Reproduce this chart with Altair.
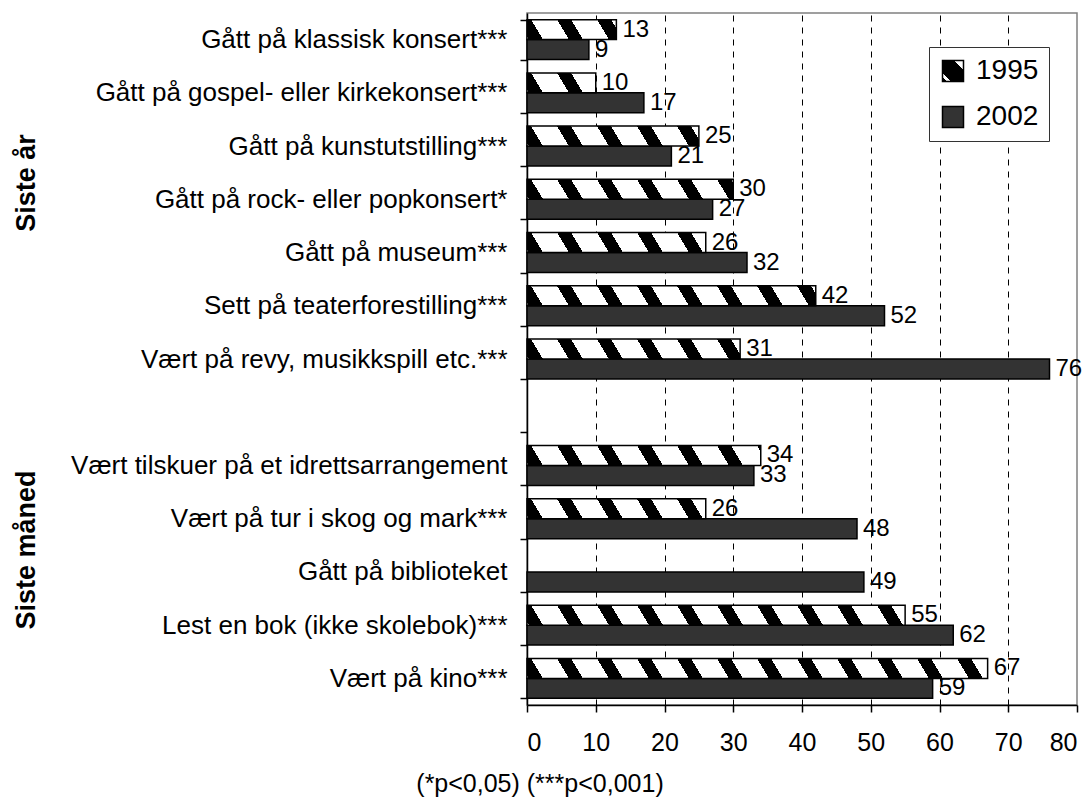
import math
import altair as alt
import pandas as pd

# ---------------- data ----------------
categories = [
    "Gått på klassisk konsert***",
    "Gått på gospel- eller kirkekonsert***",
    "Gått på kunstutstilling***",
    "Gått på rock- eller popkonsert*",
    "Gått på museum***",
    "Sett på teaterforestilling***",
    "Vært på revy, musikkspill etc.***",
    "Vært tilskuer på et idrettsarrangement",
    "Vært på tur i skog og mark***",
    "Gått på biblioteket",
    "Lest en bok (ikke skolebok)***",
    "Vært på kino***",
]
values_1995 = [13, 10, 25, 30, 26, 42, 31, 34, 26, None, 55, 67]
values_2002 = [9, 17, 21, 27, 32, 52, 76, 33, 48, 49, 62, 59]
years = ["1995", "2002"]
x_ticks = [0, 10, 20, 30, 40, 50, 60, 70, 80]
group_titles = ["Siste år", "Siste måned"]
footnote = "(*p<0,05) (***p<0,001)"
gap_row = " "

# ---------------- layout ----------------
W_PLOT, H_PLOT = 550, 692
X_MAX = 80
PX_PER_UNIT = W_PLOT / X_MAX
FONT = "Liberation Sans"

row_order = categories[:7] + [gap_row] + categories[7:]

records = []
for c, v95, v02 in zip(categories, values_1995, values_2002):
    if v95 is not None:
        records.append({"cat": c, "year": "1995", "value": v95})
    records.append({"cat": c, "year": "2002", "value": v02})
df = pd.DataFrame(records)


def stripe_gradient(value):
    """Diagonal black/white hatching, constant pixel period, for a bar."""
    W = value * PX_PER_UNIT
    S, P, B, a = 12.0, 40.0, 14.0, -10.0
    t = S / W
    d = (1 + t) / (1 + t * t)

    def s_of(q):
        return (q + S) / (W + S)

    def is_black(q):
        return ((q - a) % P) < B

    col = "#000000" if is_black(-S) else "#ffffff"
    stops = [(0.0, col)]
    edges = []
    k = math.floor((-S - a) / P) - 1
    while True:
        start = a + k * P
        if start > W:
            break
        for e in (start, start + B):
            if -S < e < W:
                edges.append(e)
        k += 1
    edges.sort()
    for e in edges:
        s = round(s_of(e), 5)
        new_col = "#000000" if is_black(e + 1e-6) else "#ffffff"
        stops.append((s, col))
        stops.append((s, new_col))
        col = new_col
    stops.append((1.0, col))
    return alt.LinearGradient(
        gradient="linear",
        stops=[alt.GradientStop(color=c, offset=o) for o, c in stops],
        x1=0, y1=1, x2=d, y2=1 - t * d,
    )


legend_grad = (
    "{gradient: 'linear', x1: 1, y1: 0, x2: 0, y2: 1, stops: ["
    "{offset: 0, color: '#ffffff'}, {offset: 0.22, color: '#ffffff'},"
    "{offset: 0.22, color: '#000000'}, {offset: 0.8, color: '#000000'},"
    "{offset: 0.8, color: '#ffffff'}, {offset: 0.9, color: '#ffffff'},"
    "{offset: 0.9, color: '#000000'}, {offset: 1, color: '#000000'}]}"
)

y_enc = alt.Y(
    "cat:N",
    scale=alt.Scale(domain=row_order, paddingInner=0.25, paddingOuter=0.125),
    axis=alt.Axis(
        title=None, labelFontSize=26, labelLimit=1000, labelPadding=13,
        tickSize=7, tickBand="extent", tickColor="black", tickWidth=1.5,
        domainColor="black", domainWidth=1.5, labelColor="black", grid=False,
    ),
)
yoff_enc = alt.YOffset("year:N", scale=alt.Scale(domain=years, paddingInner=0, paddingOuter=0))
x_enc = alt.X(
    "value:Q",
    scale=alt.Scale(domain=[0, X_MAX], nice=False, zero=True),
    axis=alt.Axis(
        values=x_ticks, title=None, labelFontSize=25, labelColor="black",
        labelBaseline="middle", labelPadding=30, tickSize=7, tickColor="black",
        tickWidth=1.5, domainColor="black", domainWidth=1.5,
        grid=True, gridDash=[6, 6], gridWidth=1,
        gridColor={"condition": {"test": "datum.value >= 80 || datum.value <= 0",
                                 "value": "transparent"}, "value": "#000000"},
    ),
)

bars_2002 = (
    alt.Chart(df)
    .transform_filter(alt.datum.year == "2002")
    .mark_bar(stroke="black", strokeWidth=1.5)
    .encode(
        x=x_enc, y=y_enc, yOffset=yoff_enc,
        color=alt.Color(
            "year:N",
            scale=alt.Scale(domain=years, range=[alt.ExprRef(legend_grad), "#333333"]),
            legend=alt.Legend(
                title=None, orient="none", legendX=402, legendY=34,
                symbolType="square", symbolSize=441, symbolStrokeColor="black",
                symbolStrokeWidth=1.5, symbolOpacity=1, labelFontSize=28,
                labelColor="black", labelOffset=9, rowPadding=18, padding=10,
                fillColor="white", strokeColor="#333333", cornerRadius=0,
            ),
        ),
    )
)

layers = [bars_2002]
for c, v95 in zip(categories, values_1995):
    if v95 is None:
        continue
    layers.append(
        alt.Chart(df)
        .transform_filter((alt.datum.year == "1995") & (alt.datum.cat == c))
        .mark_bar(fill=stripe_gradient(v95), stroke="black", strokeWidth=1.5)
        .encode(x=x_enc, y=y_enc, yOffset=yoff_enc)
    )

labels = (
    alt.Chart(df)
    .mark_text(align="left", baseline="middle", dx=6, fontSize=24, color="black")
    .encode(x=x_enc, y=y_enc, yOffset=yoff_enc, text="value:Q")
)
layers.append(labels)

title_a = (
    alt.Chart(pd.DataFrame({"t": [group_titles[0]]}))
    .mark_text(angle=270, fontSize=27, fontWeight="bold", align="center",
               baseline="middle", color="black")
    .encode(text="t:N", x=alt.value(-500), y=alt.value(170))
)
title_b = (
    alt.Chart(pd.DataFrame({"t": [group_titles[1]]}))
    .mark_text(angle=270, fontSize=27, fontWeight="bold", align="center",
               baseline="middle", color="black")
    .encode(text="t:N", x=alt.value(-500), y=alt.value(537))
)
foot = (
    alt.Chart(pd.DataFrame({"t": [footnote]}))
    .mark_text(fontSize=25, align="center", baseline="middle", color="black")
    .encode(text="t:N", x=alt.value(13), y=alt.value(771))
)
layers += [title_a, title_b, foot]

chart = (
    alt.layer(*layers)
    .properties(
        width=W_PLOT, height=H_PLOT,
        autosize=alt.AutoSizeParams(type="none"),
        padding={"left": 519, "top": 5, "right": 7, "bottom": 94},
        background="white",
    )
    .configure(font=FONT)
    .configure_view(stroke="#808080", strokeWidth=1.5)
)

chart.save("out.html", embed_options={"renderer": "svg", "actions": False})
